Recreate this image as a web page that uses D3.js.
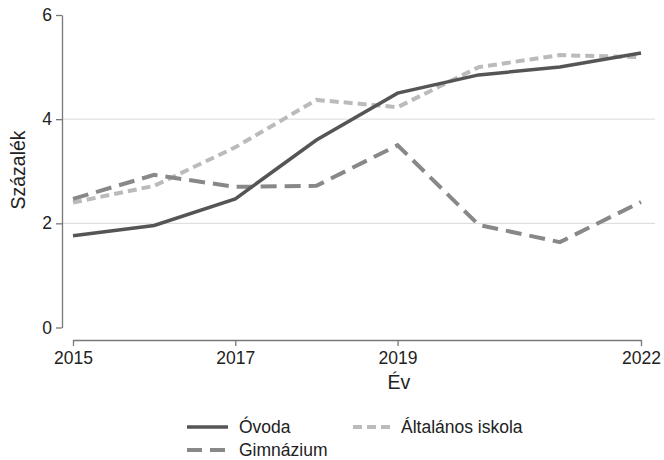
<!DOCTYPE html>
<html>
<head>
<meta charset="utf-8">
<script src="https://cdn.jsdelivr.net/npm/d3@7"></script>
<style>
  body { margin: 0; background: #fff; }
  svg { font-family: "Liberation Sans", Arial, sans-serif; }
  .axis path, .axis line { stroke: #777; stroke-width: 1.3; }
  .axis text { fill: #222; font-size: 17.5px; font-family: "Liberation Sans", Arial, sans-serif; }
  .axis-label { fill: #222; font-size: 19.5px; }
  .legend text { fill: #222; font-size: 17.5px; }
</style>
</head>
<body>
<svg class="chart"></svg>
<script>
const years = [2015, 2016, 2017, 2018, 2019, 2020, 2021, 2022]
const xTicks = [2015, 2017, 2019, 2022]
const yTicks = [0, 2, 4, 6]
const ovoda = [1.76, 1.96, 2.47, 3.6, 4.5, 4.85, 5.0, 5.27]
const gimnazium = [2.47, 2.93, 2.7, 2.72, 3.5, 1.97, 1.64, 2.41]
const altalanos = [2.4, 2.72, 3.46, 4.37, 4.23, 5.0, 5.23, 5.19]

const series = [
    {title: "Óvoda", values: ovoda, color: "#555", width: 3.5, dash: null},
    {title: "Általános iskola", values: altalanos, color: "#bbb", width: 4, dash: "9,5"},
    {title: "Gimnázium", values: gimnazium, color: "#888", width: 4, dash: "16,8"}
]

const width = 664, height = 460

const xScale = d3.scaleLinear()
    .domain([2015, 2022])
    .range([73, 641])

const yScale = d3.scaleLinear()
    .domain([0, 6])
    .range([327.5, 15])

const svg = d3.select(".chart")
    .attr("width", width)
    .attr("height", height)

// gridlines
svg.append("g")
    .selectAll("line")
    .data([2, 4])
    .join("line")
    .attr("x1", 62).attr("x2", 655)
    .attr("y1", d => yScale(d)).attr("y2", d => yScale(d))
    .attr("stroke", "#d9d9d9")
    .attr("stroke-width", 1)

svg.append("g")
    .attr("class", "y axis")
    .attr("transform", "translate(62,0)")
    .call(d3.axisLeft(yScale).tickValues(yTicks).tickFormat(d3.format("d")).tickSize(6).tickPadding(4).tickSizeOuter(0))

svg.append("g")
    .attr("class", "x axis")
    .attr("transform", "translate(0,340)")
    .call(d3.axisBottom(xScale).tickValues(xTicks).tickFormat(d3.format("d")).tickSize(6).tickPadding(6).tickSizeOuter(0))

svg.append("text")
    .text("Százalék")
    .attr("class", "axis-label")
    .attr("text-anchor", "middle")
    .attr("transform", "translate(25,170) rotate(-90)")

svg.append("text")
    .text("Év")
    .attr("class", "axis-label")
    .attr("text-anchor", "middle")
    .attr("x", 399).attr("y", 389)

const line = d3.line()
    .x((d, i) => xScale(years[i]))
    .y(d => yScale(d))

// draw light dashed first, then gimnazium, then ovoda on top
;[series[1], series[2], series[0]].forEach(s => {
    svg.append("path")
        .datum(s.values)
        .attr("d", line)
        .attr("fill", "none")
        .attr("stroke", s.color)
        .attr("stroke-width", s.width)
        .attr("stroke-dasharray", s.dash)
})

// legend
const legendPos = [
    {x: 187, y: 427}, {x: 353, y: 427}, {x: 187, y: 450}
]
const legend = svg.append("g").attr("class", "legend")
series.forEach((s, i) => {
    const p = legendPos[i]
    legend.append("line")
        .attr("x1", p.x).attr("x2", p.x + 41)
        .attr("y1", p.y).attr("y2", p.y)
        .attr("stroke", s.color)
        .attr("stroke-width", s.width)
        .attr("stroke-dasharray", s.dash ? (i === 1 ? "9,5" : "15,8") : null)
    legend.append("text")
        .text(s.title)
        .attr("x", p.x + 52 - (i === 1 ? 4 : 0))
        .attr("y", p.y + 6)
})
</script>
</body>
</html>
